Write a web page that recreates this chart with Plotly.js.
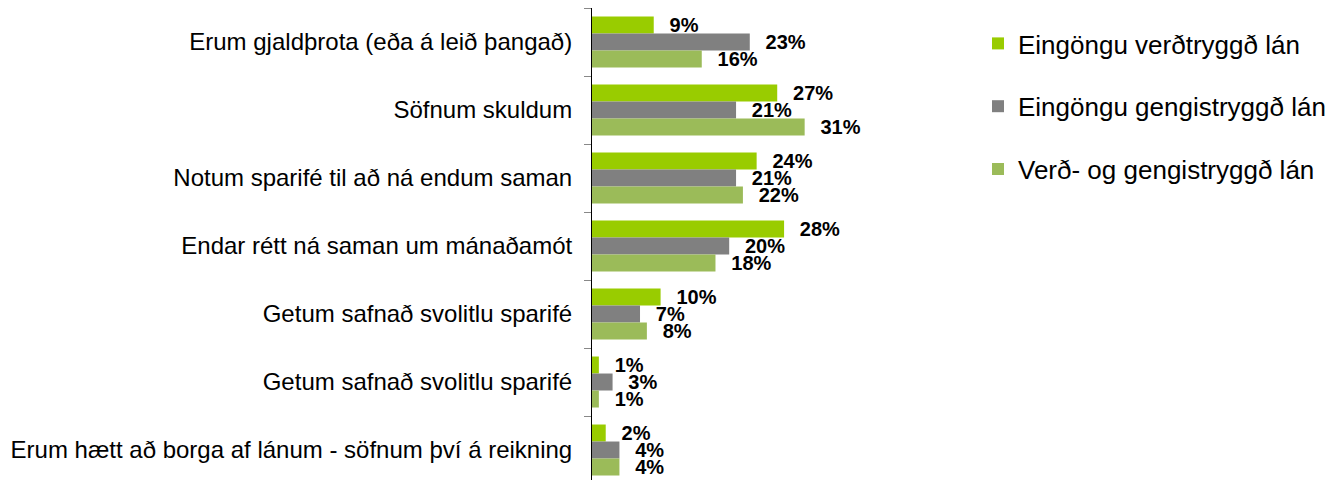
<!DOCTYPE html>
<html>
<head>
<meta charset="utf-8">
<script src="https://cdn.plot.ly/plotly-3.0.1.min.js"></script>
<style>html,body{margin:0;padding:0;background:#fff;}#chart{width:1332px;height:480px;}</style>
</head>
<body>
<div id="chart"></div>
<script>
const categories = [
  "Erum gjaldþrota (eða á leið þangað)",
  "Söfnum skuldum",
  "Notum sparifé til að ná endum saman",
  "Endar rétt ná saman um mánaðamót",
  "Getum safnað svolitlu sparifé",
  "Getum safnað svolitlu sparifé",
  "Erum hætt að borga af lánum - söfnum því á reikning"
];
const seriesNames = [
  "Eingöngu verðtryggð lán",
  "Eingöngu gengistryggð lán",
  "Verð- og gengistryggð lán"
];
const verdtryggd   = [9, 27, 24, 28, 10, 1, 2];
const gengistryggd = [23, 21, 21, 20, 7, 3, 4];
const verdOgGengis = [16, 31, 22, 18, 8, 1, 4];
const colors = ["#99CC00", "#808080", "#9BBB59"];

const positions = categories.map((_, i) => i);
const boundaries = positions.map(p => p - 0.5).concat([positions.length - 0.5]);
const FONT = '"Liberation Sans", Arial, Helvetica, sans-serif';

const seriesValues = [verdtryggd, gengistryggd, verdOgGengis];
const traces = seriesValues.map((vals, k) => ({
  type: 'bar',
  orientation: 'h',
  name: seriesNames[k],
  legendgroup: 'g' + k,
  x: vals,
  y: positions,
  marker: {color: colors[k], line: {width: 0}},
  text: vals.map(v => v + '%'),
  texttemplate: '\u00a0\u00a0\u200a%{text}',
  textposition: 'outside',
  constraintext: 'none',
  cliponaxis: false,
  textfont: {family: FONT, size: 20, color: '#000', weight: 'bold'},
  hoverinfo: 'none'
}));

const layout = {
  width: 1332,
  height: 480,
  margin: {l: 592, r: 397, t: 8, b: 0, pad: 0},
  barmode: 'group',
  bargap: 0.25,
  bargroupgap: 0,
  paper_bgcolor: '#fff',
  plot_bgcolor: '#fff',
  font: {family: FONT, color: '#000'},
  showlegend: true,
  xaxis: {range: [0, 50], visible: false, fixedrange: true},
  yaxis: {
    range: [6.441, -0.5],
    tickmode: 'array',
    tickvals: positions,
    ticktext: categories,
    ticks: '',
    showline: true,
    linecolor: '#000',
    linewidth: 1,
    showgrid: false,
    zeroline: false,
    automargin: false,
    fixedrange: true,
    ticklabelstandoff: 14,
    tickfont: {family: FONT, size: 24, color: '#000'},
    minor: {tickmode: 'array', tickvals: boundaries, ticks: 'outside', ticklen: 7, tickwidth: 1, tickcolor: '#888', showgrid: false}
  },
  legend: {
    xref: 'container', yref: 'container',
    x: 978 / 1332, y: 1 - 20 / 480,
    xanchor: 'left', yanchor: 'top',
    traceorder: 'grouped',
    tracegroupgap: 26,
    itemclick: false, itemdoubleclick: false,
    font: {family: FONT, size: 26, color: '#000'},
    bgcolor: 'rgba(0,0,0,0)', borderwidth: 0
  }
};

Plotly.newPlot('chart', traces, layout, {displayModeBar: false, staticPlot: true});
</script>
</body>
</html>
